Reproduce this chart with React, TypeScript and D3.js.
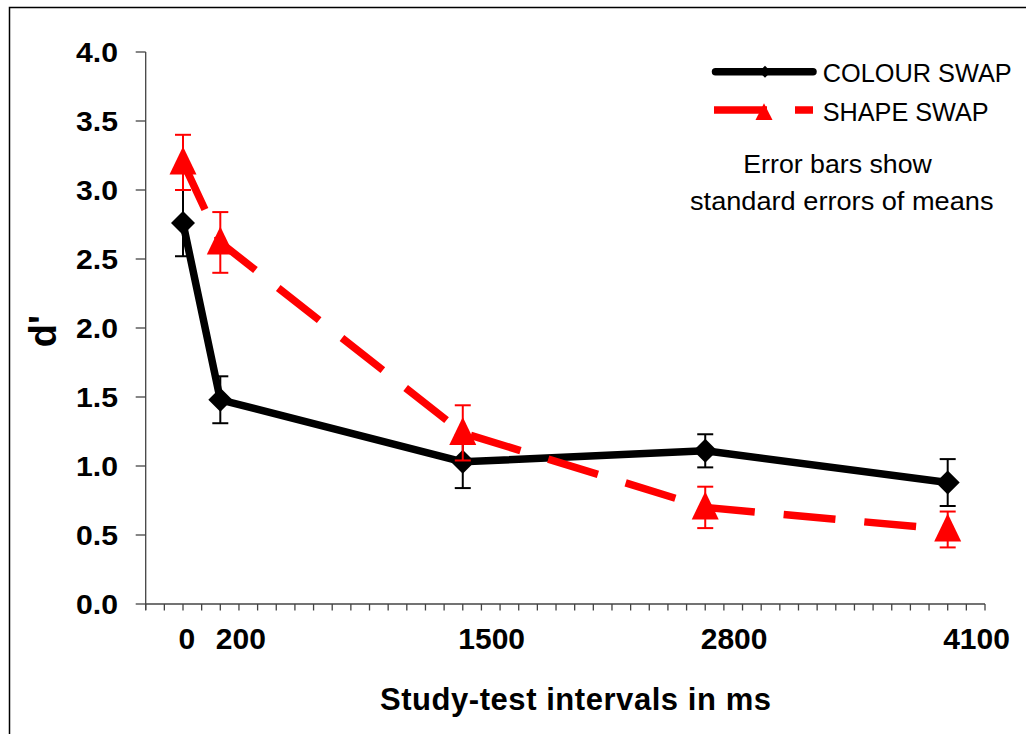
import React from "react";
import * as d3 from "d3";

// Study-test interval in ms for each condition
const intervals = [0, 200, 1500, 2800, 4100];
// Mean d' and standard errors, colour-swap condition
const colourSwap = [2.76, 1.48, 1.03, 1.11, 0.88];
const colourSE = [0.24, 0.17, 0.19, 0.12, 0.17];
// Mean d' and standard errors, shape-swap condition
const shapeSwap = [3.2, 2.62, 1.24, 0.7, 0.54];
const shapeSE = [0.2, 0.22, 0.2, 0.15, 0.13];

const yTicks = [0, 0.5, 1.0, 1.5, 2.0, 2.5, 3.0, 3.5, 4.0];
const xLabels = [0, 200, 1500, 2800, 4100];
const minorTicks = d3.range(-200, 4301, 100);

const W = 1026;
const H = 734;

const x = d3.scaleLinear().domain([-200, 4300]).range([145.7, 985]);
const y = d3.scaleLinear().domain([0, 4]).range([604, 52]);

const SANS = "'Liberation Sans', Arial, Helvetica, sans-serif";

type Pt = { t: number; v: number; se: number };

function series(vals: number[], se: number[]): Pt[] {
  return intervals.map((t, i) => ({ t, v: vals[i], se: se[i] }));
}

const lineGen = d3
  .line<Pt>()
  .x((d) => x(d.t))
  .y((d) => y(d.v));

function diamond(cx: number, cy: number, r: number) {
  return `M${cx},${cy - r}L${cx + r},${cy}L${cx},${cy + r}L${cx - r},${cy}Z`;
}

function triangle(cx: number, cy: number, up: number, down: number, hw: number) {
  return `M${cx},${cy - up}L${cx + hw},${cy + down}L${cx - hw},${cy + down}Z`;
}

function ErrorBars({ data, color }: { data: Pt[]; color: string }) {
  const cap = 8;
  return (
    <g stroke={color} strokeWidth={2} fill="none">
      {data.map((d, i) => {
        const cx = x(d.t);
        const y1 = y(d.v + d.se);
        const y0 = y(d.v - d.se);
        return (
          <g key={i}>
            <line x1={cx} x2={cx} y1={y1} y2={y0} />
            <line x1={cx - cap} x2={cx + cap} y1={y1} y2={y1} />
            <line x1={cx - cap} x2={cx + cap} y1={y0} y2={y0} />
          </g>
        );
      })}
    </g>
  );
}

export default function App() {
  const colour = series(colourSwap, colourSE);
  const shape = series(shapeSwap, shapeSE);
  const axisColor = "#444";

  return (
    <svg
      width={W}
      height={H}
      viewBox={`0 0 ${W} ${H}`}
      style={{ position: "absolute", left: 0, top: 0, display: "block", background: "#fff" }}
    >
      {/* outer frame */}
      <rect x={9.5} y={7.5} width={W + 20} height={H + 20} fill="#fff" stroke="#000" strokeWidth={1.5} />

      {/* y axis */}
      <g stroke={axisColor} strokeWidth={1.3}>
        <line x1={x(-200)} x2={x(-200)} y1={y(4)} y2={y(0) + 6} />
        {yTicks.map((t) => (
          <line key={t} x1={x(-200) - 10} x2={x(-200)} y1={y(t)} y2={y(t)} />
        ))}
      </g>
      <g fontFamily={SANS} fontWeight="bold" fontSize={27} fill="#000" textAnchor="end">
        {yTicks.map((t) => (
          <text key={t} x={118} y={y(t) + 9.8} textLength={42} lengthAdjust="spacingAndGlyphs">
            {t.toFixed(1)}
          </text>
        ))}
      </g>

      {/* x axis */}
      <g stroke={axisColor} strokeWidth={1.3}>
        <line x1={x(-200)} x2={x(4300)} y1={y(0)} y2={y(0)} />
        {minorTicks.map((t) => (
          <line key={t} x1={x(t)} x2={x(t)} y1={y(0)} y2={y(0) + 6.5} />
        ))}
      </g>
      <g fontFamily={SANS} fontWeight="bold" fontSize={30} fill="#000">
        {xLabels.map((t) => (
          <text key={t} x={x(t) - 4.5} y={649}>
            {t}
          </text>
        ))}
      </g>

      {/* axis titles */}
      <text
        x={380}
        y={710}
        fontFamily={SANS}
        fontWeight="bold"
        fontSize={31}
        textLength={391}
        lengthAdjust="spacing"
      >
        Study-test intervals in ms
      </text>
      <text
        transform="translate(56,331) rotate(-90)"
        textAnchor="middle"
        fontFamily={SANS}
        fontWeight="bold"
        fontSize={38}
      >
        d'
      </text>

      {/* colour swap series */}
      <ErrorBars data={colour} color="#000" />
      <path d={lineGen(colour) || ""} fill="none" stroke="#000" strokeWidth={7.5} strokeLinejoin="round" />
      {colour.map((d, i) => (
        <path key={i} d={diamond(x(d.t), y(d.v), 12)} fill="#000" />
      ))}

      {/* shape swap series */}
      <ErrorBars data={shape} color="#ff0000" />
      <path
        d={lineGen(shape) || ""}
        fill="none"
        stroke="#ff0000"
        strokeWidth={7.5}
        strokeDasharray="52 29"
      />
      {shape.map((d, i) => (
        <path key={i} d={triangle(x(d.t), y(d.v), 16, 12, 13.5)} fill="#ff0000" />
      ))}

      {/* legend */}
      <line x1={715.5} x2={813} y1={71.7} y2={71.7} stroke="#000" strokeWidth={7.5} strokeLinecap="round" />
      <path d={diamond(765, 71.7, 6)} fill="#000" />
      <line x1={714} x2={813} y1={110} y2={110} stroke="#ff0000" strokeWidth={7.5} strokeDasharray="53 28" />
      <path d={triangle(764, 111.7, 8.5, 8.3, 8.5)} fill="#ff0000" />
      <g fontFamily={SANS} fontSize={25} fill="#000">
        <text x={822.7} y={81.7} textLength={189} lengthAdjust="spacingAndGlyphs">
          COLOUR SWAP
        </text>
        <text x={822.7} y={121} textLength={166} lengthAdjust="spacingAndGlyphs">
          SHAPE SWAP
        </text>
        <text x={743.3} y={173.3} textLength={188.5} lengthAdjust="spacingAndGlyphs">
          Error bars show
        </text>
        <text x={690} y={210} textLength={303.5} lengthAdjust="spacingAndGlyphs">
          standard errors of means
        </text>
      </g>
    </svg>
  );
}
